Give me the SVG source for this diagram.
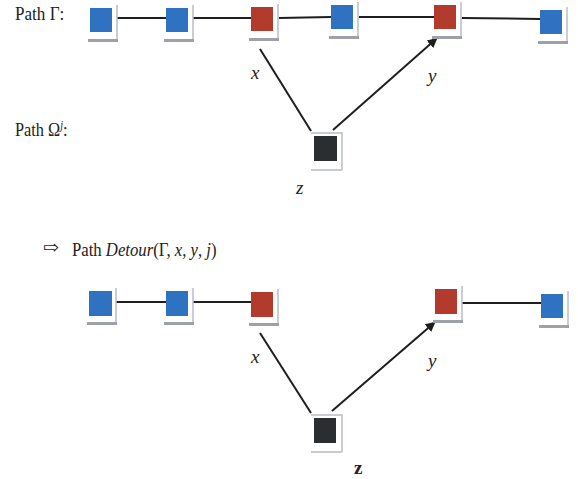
<svg xmlns="http://www.w3.org/2000/svg" width="578" height="479" viewBox="0 0 578 479">
<style>
.t{font-family:"Liberation Serif","DejaVu Serif",serif;font-size:19px;fill:#222}
.i{font-style:italic}
.blue{fill:#2f72c2}
.red{fill:#b23b2d}
.dark{fill:#2a2e31}
.bar{fill:#9ea2a8}
.side{stroke:#b8bcc2;stroke-width:1.5;fill:none}
.edge{stroke:#1e1e1e;stroke-width:2;fill:none}
</style>
<defs>
<marker id="ah" markerWidth="10" markerHeight="10" refX="8" refY="5" orient="auto" markerUnits="userSpaceOnUse" viewBox="0 0 10 10">
<path d="M0,0 L10,5 L0,10 z" fill="#1e1e1e"/>
</marker>
<g id="frame">
<path class="side" d="M27,-3 V33"/>
<rect class="bar" x="-2" y="31" width="30" height="3"/>
</g>
</defs>
<g id="connectors">
<line class="edge" x1="117" y1="18" x2="166" y2="18"/>
<line class="edge" x1="193" y1="18" x2="251" y2="18"/>
<line class="edge" x1="279" y1="18" x2="331" y2="17"/>
<line class="edge" x1="359" y1="17" x2="434" y2="17"/>
<line class="edge" x1="462" y1="18" x2="540" y2="19"/>
<line class="edge" x1="260" y1="49" x2="311" y2="131"/>
<line class="edge" x1="333" y1="130" x2="436" y2="39" marker-end="url(#ah)"/>
<line class="edge" x1="116" y1="302" x2="166" y2="302"/>
<line class="edge" x1="193" y1="302" x2="251" y2="302"/>
<line class="edge" x1="462" y1="303" x2="541" y2="303"/>
<line class="edge" x1="260" y1="333" x2="311" y2="413"/>
<line class="edge" x1="332" y1="411" x2="434" y2="323" marker-end="url(#ah)"/>
</g>
<g id="g1" transform="translate(90,8)"><use href="#frame"/><rect class="blue" width="22" height="24"/></g>
<g id="g2" transform="translate(166,8)"><use href="#frame"/><rect class="blue" width="22" height="24"/></g>
<g id="g3" transform="translate(251,7)"><use href="#frame"/><rect class="red" width="22" height="24"/></g>
<g id="g4" transform="translate(331,5)"><use href="#frame"/><rect class="blue" width="22" height="24"/></g>
<g id="g5" transform="translate(434,5)"><use href="#frame"/><rect class="red" width="22" height="24"/></g>
<g id="g6" transform="translate(540,10)"><use href="#frame"/><rect class="blue" width="22" height="24"/></g>
<g id="gz" transform="translate(314,136)"><path class="side" d="M-3,-3 H28 V34"/><rect fill="#c8ccd0" x="-3" y="33" width="31" height="2"/><rect class="dark" width="23" height="25"/></g>
<g id="d1" transform="translate(89,291)"><use href="#frame"/><rect class="blue" width="23" height="25"/></g>
<g id="d2" transform="translate(166,291)"><use href="#frame"/><rect class="blue" width="22" height="25"/></g>
<g id="d3" transform="translate(251,292)"><use href="#frame"/><rect class="red" width="22" height="25"/></g>
<g id="d5" transform="translate(435,289)"><use href="#frame"/><rect class="red" width="22" height="25"/></g>
<g id="d6" transform="translate(541,294)"><use href="#frame"/><rect class="blue" width="22" height="24"/></g>
<g id="dz" transform="translate(314,418)"><path class="side" d="M-3,-3 H28 V34"/><rect fill="#c8ccd0" x="-3" y="33" width="31" height="2"/><rect class="dark" width="22" height="25"/></g>
<g id="labels">
<text class="t" transform="translate(15,20) scale(0.9,1)">Path Γ:</text>
<text class="t" transform="translate(15,136) scale(0.86,1)">Path Ω<tspan class="i" font-size="12" dy="-7">j</tspan><tspan dy="7">:</tspan></text>
<text class="t" x="43" y="254" font-size="14">⇨</text>
<text class="t" transform="translate(72,256) scale(0.88,1)">Path <tspan class="i">Detour</tspan>(Γ, <tspan class="i">x</tspan>, <tspan class="i">y</tspan>, <tspan class="i">j</tspan>)</text>
<text class="t i" x="251" y="79">x</text>
<text class="t i" x="428" y="82">y</text>
<text class="t i" x="296" y="194">z</text>
<text class="t i" x="251" y="363">x</text>
<text class="t i" x="428" y="367">y</text>
<text class="t" x="354" y="474" font-weight="bold" font-size="17">z</text>
</g>
</svg>
